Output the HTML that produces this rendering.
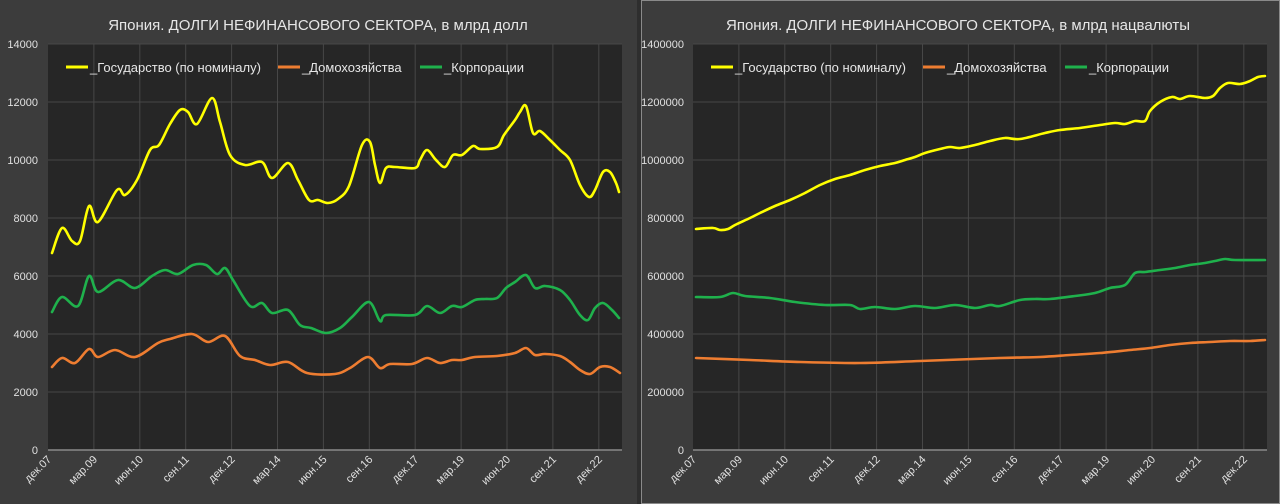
<!DOCTYPE html>
<html><head><meta charset="utf-8"><style>
html,body{margin:0;padding:0;background:#2e2e2e;width:1280px;height:504px;overflow:hidden}
svg{display:block;font-family:"Liberation Sans","DejaVu Sans",sans-serif}
</style></head><body>
<svg id="s" width="1280" height="504" xmlns="http://www.w3.org/2000/svg">
<rect x="0" y="0" width="637" height="504" fill="#3c3c3c"/>
<rect x="641.5" y="0.5" width="638" height="503" fill="#3c3c3c" stroke="#8a8a8a"/>
<rect x="48" y="44" width="574" height="406" fill="#262626"/>
<rect x="693" y="44" width="574" height="406" fill="#262626"/>
<g id="g"></g>
<text x="318" y="30" fill="#e6e6e6" font-size="15" text-anchor="middle">Япония. ДОЛГИ НЕФИНАНСОВОГО СЕКТОРА, в млрд долл</text>
<text x="958" y="30" fill="#e6e6e6" font-size="15" text-anchor="middle">Япония. ДОЛГИ НЕФИНАНСОВОГО СЕКТОРА, в млрд нацвалюты</text>
</svg>
<script>
const NS="http://www.w3.org/2000/svg",g=document.getElementById('g');
function el(t,a,txt){const e=document.createElementNS(NS,t);for(const k in a)e.setAttribute(k,a[k]);if(txt)e.textContent=txt;g.appendChild(e);return e;}
const labs=["дек.07","мар.09","июн.10","сен.11","дек.12","мар.14","июн.15","сен.16","дек.17","мар.19","июн.20","сен.21","дек.22"];
function panel(x0,yl,ylx){
  for(let i=0;i<=7;i++){const y=450-i*58;
    if(i>0)el('line',{x1:x0,x2:x0+574,y1:y,y2:y,stroke:'#474747','stroke-width':1});
    el('text',{x:ylx,y:y+4,fill:'#e0e0e0','font-size':11,'text-anchor':'end'},yl(i));}
  labs.forEach((l,i)=>{const x=x0+i*45.9;
    if(i>0)el('line',{x1:x,x2:x,y1:44,y2:450,stroke:'#474747','stroke-width':1});
    el('text',{x:x+4,y:460,fill:'#e0e0e0','font-size':11,'text-anchor':'end',transform:`rotate(-45 ${x+4} 460)`},l);});
  el('line',{x1:x0,x2:x0+574,y1:450,y2:450,stroke:'#8a8a8a','stroke-width':1.5});
  const leg=[["#ffff00","_Государство (по номиналу)",x0+18],["#ee7d31","_Домохозяйства",x0+230],["#1fb14c","_Корпорации",x0+372]];
  leg.forEach(([c,t,x])=>{el('line',{x1:x,x2:x+22,y1:67,y2:67,stroke:c,'stroke-width':3});
    el('text',{x:x+24,y:72,fill:'#e6e6e6','font-size':13},t);});
}
panel(48,i=>String(i*2000),38);
panel(693,i=>String(i*200000),684);
function path(pts,c){let d=`M${pts[0][0]},${pts[0][1]}`;
  for(let i=0;i<pts.length-1;i++){const p0=pts[i-1]||pts[i],p1=pts[i],p2=pts[i+1],p3=pts[i+2]||p2;
    d+=` C${p1[0]+(p2[0]-p0[0])/6},${p1[1]+(p2[1]-p0[1])/6} ${p2[0]-(p3[0]-p1[0])/6},${p2[1]-(p3[1]-p1[1])/6} ${p2[0]},${p2[1]}`;}
  el('path',{d,fill:'none',stroke:c,'stroke-width':2.6,'stroke-linejoin':'round','stroke-linecap':'round'});}
function P(s){return s.trim().split(/\)\s*,?\s*\(/).map(t=>t.replace(/[()]/g,'').split(',').map(Number));}
path(P("(52,367),(62,358),(75,363),(89,349),(98,357),(115,350),(135,357),(158,343),(170,339),(192,334),(208,342),(225,336),(240,356),(255,360),(270,365),(288,362),(307,373),(335,374),(350,368),(368,357),(380,368),(390,364),(412,364),(427,358),(440,363),(452,360),(462,360),(475,357),(497,356),(515,353),(526,348),(535,355),(545,354),(560,356),(570,362),(580,370),(590,374),(600,367),(610,367),(620,373)"),"#ee7d31");
path(P("(52,312),(62,297),(78,306),(89,276),(98,292),(118,280),(135,288),(152,276),(165,270),(178,274),(193,265),(206,265),(217,274),(225,268),(233,280),(250,306),(262,303),(272,313),(288,310),(300,325),(311,328),(326,333),(340,328),(352,317),(369,302),(380,321),(386,315),(415,315),(427,306),(440,313),(452,306),(462,307),(475,300),(485,299),(497,298),(506,288),(515,282),(526,275),(535,288),(545,286),(560,290),(570,300),(580,315),(588,320),(595,308),(603,303),(612,310),(619,318)"),"#1fb14c");
path(P("(52,253),(62,228),(72,241),(80,241),(89,206),(98,222),(117,190),(125,195),(137,180),(150,150),(159,145),(170,124),(180,110),(188,112),(197,124),(212,98),(220,122),(230,155),(245,165),(262,162),(272,178),(288,163),(298,180),(309,200),(318,200),(328,203),(338,199),(349,186),(362,145),(370,142),(375,165),(380,183),(386,168),(395,167),(415,168),(420,160),(427,150),(436,160),(445,167),(453,155),(462,155),(473,146),(480,149),(497,147),(504,135),(515,120),(520,112),(526,106),(533,133),(540,131),(550,140),(560,150),(570,160),(580,185),(589,197),(595,190),(603,172),(610,172),(616,183),(619,192)"),"#ffff00");
path(P("(696,358),(750,360),(800,362),(860,363),(920,361),(1000,358),(1040,357),(1070,355),(1100,353),(1130,350),(1150,348),(1170,345),(1190,343),(1210,342),(1230,341),(1250,341),(1265,340)"),"#ee7d31");
path(P("(696,297),(720,297),(733,293),(745,296),(770,298),(795,302),(825,305),(850,305),(860,309),(875,307),(895,309),(915,306),(935,308),(955,305),(975,308),(990,305),(1000,306),(1020,300),(1035,299),(1050,299),(1075,296),(1095,293),(1110,288),(1125,285),(1135,273),(1145,272),(1160,270),(1175,268),(1190,265),(1205,263),(1215,261),(1225,259),(1235,260),(1265,260)"),"#1fb14c");
path(P("(696,229),(713,228),(720,230),(728,229),(735,225),(750,218),(760,213),(775,206),(790,200),(805,193),(820,185),(835,179),(850,175),(865,170),(880,166),(895,163),(905,160),(915,157),(925,153),(940,149),(950,147),(960,148),(975,145),(990,141),(1005,138),(1020,139),(1045,133),(1060,130),(1080,128),(1100,125),(1115,123),(1125,124),(1135,121),(1145,121),(1150,111),(1160,102),(1172,97),(1180,99),(1190,96),(1205,98),(1213,96),(1220,88),(1228,83),(1240,84),(1250,81),(1258,77),(1265,76)"),"#ffff00");
</script>
</body></html>
